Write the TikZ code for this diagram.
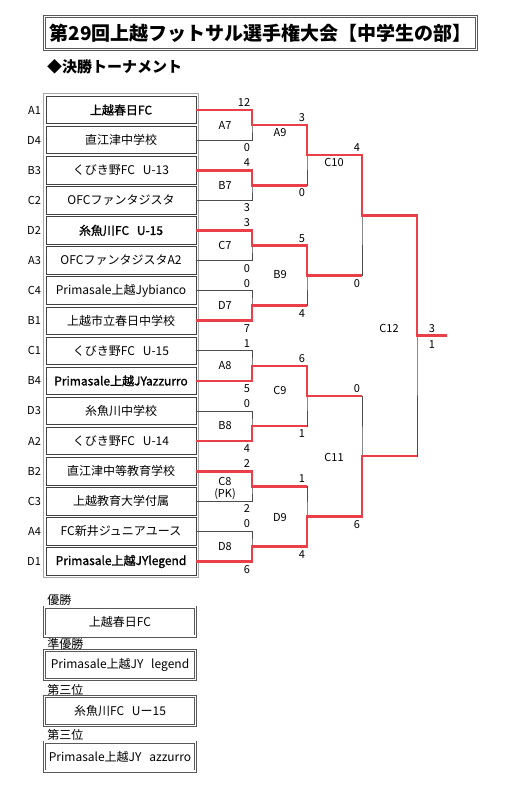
\documentclass[tikz,border=0pt]{standalone}
\usepackage{fontspec}
\setmainfont{Noto Sans CJK JP}
\newfontfamily\semibf[FakeBold=1.3]{Noto Sans CJK JP}
\usetikzlibrary{positioning,fit}
\definecolor{winred}{RGB}{234,62,72}
\newcommand{\gap}{\hspace{0.65em}}
\tikzset{
  team/.style={draw=black!75, line width=0.8pt, minimum width=150pt, minimum height=27.5pt, inner sep=0pt, font=\fontsize{12}{14}\selectfont},
  seed/.style={inner sep=0pt, font=\fontsize{11}{13}\selectfont},
  game/.style={inner sep=0pt, align=center, font=\fontsize{11}{12}\selectfont},
  score/.style={inner sep=0pt, font=\fontsize{11}{13}\selectfont},
  bline/.style={draw=black!70, line width=0.8pt},
  rline/.style={draw=winred, line width=2.6pt},
  dframe/.style={draw=black!65, double=white, double distance=1.6pt, line width=0.7pt},
  rankbox/.style={dframe, minimum width=151pt, minimum height=29pt, inner sep=0pt, font=\fontsize{12}{14}\selectfont},
  ranklabel/.style={inner sep=0pt, font=\fontsize{12}{14}\selectfont}
}
\begin{document}
\begin{tikzpicture}[x=1pt,y=-1pt]
  \useasboundingbox (0,0) rectangle (529,787);
  % heading
  \node[dframe, minimum width=432pt, minimum height=33pt, inner sep=0pt, font=\fontsize{19}{22}\selectfont\bfseries] (title) at (260.5,33) {第29回上越フットサル選手権大会【中学生の部】};
  \node[anchor=west, inner sep=0pt, font=\fontsize{15}{18}\selectfont\bfseries] (sub) at (47,67) {◆決勝トーナメント};
  % teams
  \foreach \sd/\nm [count=\i from 0] in {A1/{\semibf 上越春日FC}, D4/直江津中学校, B3/くびき野FC\gap U-13, C2/OFCファンタジスタ,
      D2/{\semibf 糸魚川FC\gap U-15}, A3/OFCファンタジスタA2, C4/Primasale上越Jybianco, B1/上越市立春日中学校,
      C1/くびき野FC\gap U-15, B4/{\semibf Primasale上越JYazzurro}, D3/糸魚川中学校, A2/くびき野FC\gap U-14,
      B2/直江津中等教育学校, C3/上越教育大学付属, A4/FC新井ジュニアユース, D1/{\semibf Primasale上越JYlegend}} {
    \node[team] (\sd) at (121,110+30.1*\i) {\nm};
    \node[seed, left=4.5pt of \sd] (s\sd) {\sd};
  }
  \node[draw=gray!70, line width=0.8pt, inner sep=2.2pt, fit=(A1)(D1)] (column) {};
  % joints
  \coordinate (jA7) at (252,125.05);
  \coordinate (jB7) at (252,185.25);
  \coordinate (jC7) at (252,245.45);
  \coordinate (jD7) at (252,305.65);
  \coordinate (jA8) at (252,365.85);
  \coordinate (jB8) at (252,426.05);
  \coordinate (jC8) at (252,486.25);
  \coordinate (jD8) at (252,546.45);
  \coordinate (jA9) at (307,155.15);
  \coordinate (jB9) at (307,275.55);
  \coordinate (jC9) at (307,395.95);
  \coordinate (jD9) at (307,516.35);
  \coordinate (jC10) at (362,215.35);
  \coordinate (jC11) at (362,456.15);
  \coordinate (jC12) at (417,335.75);
  \coordinate (fin) at (447,335.75);
  % bracket
  \foreach \t/\b/\m in {A1/D4/A7, B3/C2/B7, D2/A3/C7, C4/B1/D7, C1/B4/A8, D3/A2/B8, B2/C3/C8, A4/D1/D8}
    {\draw[bline] (\t.east) -| (j\m) |- (\b.east);}
  \draw[bline] (jA7) -| (jA9) |- (jB7);
  \draw[bline] (jC7) -| (jB9) |- (jD7);
  \draw[bline] (jA8) -| (jC9) |- (jB8);
  \draw[bline] (jC8) -| (jD9) |- (jD8);
  \draw[bline] (jA9) -| (jC10) |- (jB9);
  \draw[bline] (jC9) -| (jC11) |- (jD9);
  \draw[bline] (jC10) -| (jC12) |- (jC11);
  % winners
  \draw[rline] (A1.east) -| (jA7) -| (jA9) -| (jC10) -| (jC12) -- (fin);
  \draw[rline] (B3.east) -| (jB7) -- (jB7 -| jA9);
  \draw[rline] (D2.east) -| (jC7) -| (jB9) -- (jB9 -| jC10);
  \draw[rline] (B1.east) -| (jD7) -- (jD7 -| jB9);
  \draw[rline] (B4.east) -| (jA8) -| (jC9) -- (jC9 -| jC11);
  \draw[rline] (A2.east) -| (jB8) -- (jB8 -| jC9);
  \draw[rline] (B2.east) -| (jC8) -- (jC8 -| jD9);
  \draw[rline] (D1.east) -| (jD8) -| (jD9) -| (jC11) -- (jC11 -| jC12);
  % match labels
  \foreach \m/\x/\y in {A7/225/125, B7/225/185, C7/225/245.5, D7/225/305.7, A8/225/366, B8/225/426, D8/225/546.5,
      A9/280/133, B9/280/275, C9/280/390, D9/280/518, C10/334/162, C11/334/457, C12/389/328}
    {\node[game] (\m) at (\x,\y) {\m};}
  \node[game] (C8) at (225,488) {C8\\(PK)};
  % scores
  \foreach \x/\y/\s [count=\k] in {244/103/12, 247/148/0, 247/163/4, 247/208/3, 247/223/3, 247/268.5/0, 247/284/0, 247/329/7,
      247/344/1, 247/389/5, 247/404/0, 247/449/4, 247/464/2, 247/509/2, 247/524/0, 247/569.5/6,
      302/118/3, 302/193/0, 302/238.5/5, 302/313.7/4, 302/359/6, 302/434/1, 302/479/1, 302/554.5/4,
      357/148/4, 357/283.5/0, 357/389/0, 357/524.4/6, 432/328.5/3, 432/345/1}
    {\node[score] (sc\k) at (\x,\y) {\s};}
  % final standings
  \node[rankbox] (r1) at (120,621.5) {上越春日FC};
  \node[rankbox] (r2) at (120,665) {Primasale上越JY\gap legend};
  \node[rankbox] (r3) at (120,711) {糸魚川FC\gap Uー15};
  \node[rankbox] (r4) at (120,756.5) {Primasale上越JY\gap azzurro};
  \node[ranklabel, above right=0.5pt and 3pt of r1.north west] (l1) {優勝};
  \node[ranklabel, above right=0.5pt and 3pt of r2.north west] (l2) {準優勝};
  \node[ranklabel, above right=0.5pt and 3pt of r3.north west] (l3) {第三位};
  \node[ranklabel, above right=0.5pt and 3pt of r4.north west] (l4) {第三位};
\end{tikzpicture}
\end{document}
